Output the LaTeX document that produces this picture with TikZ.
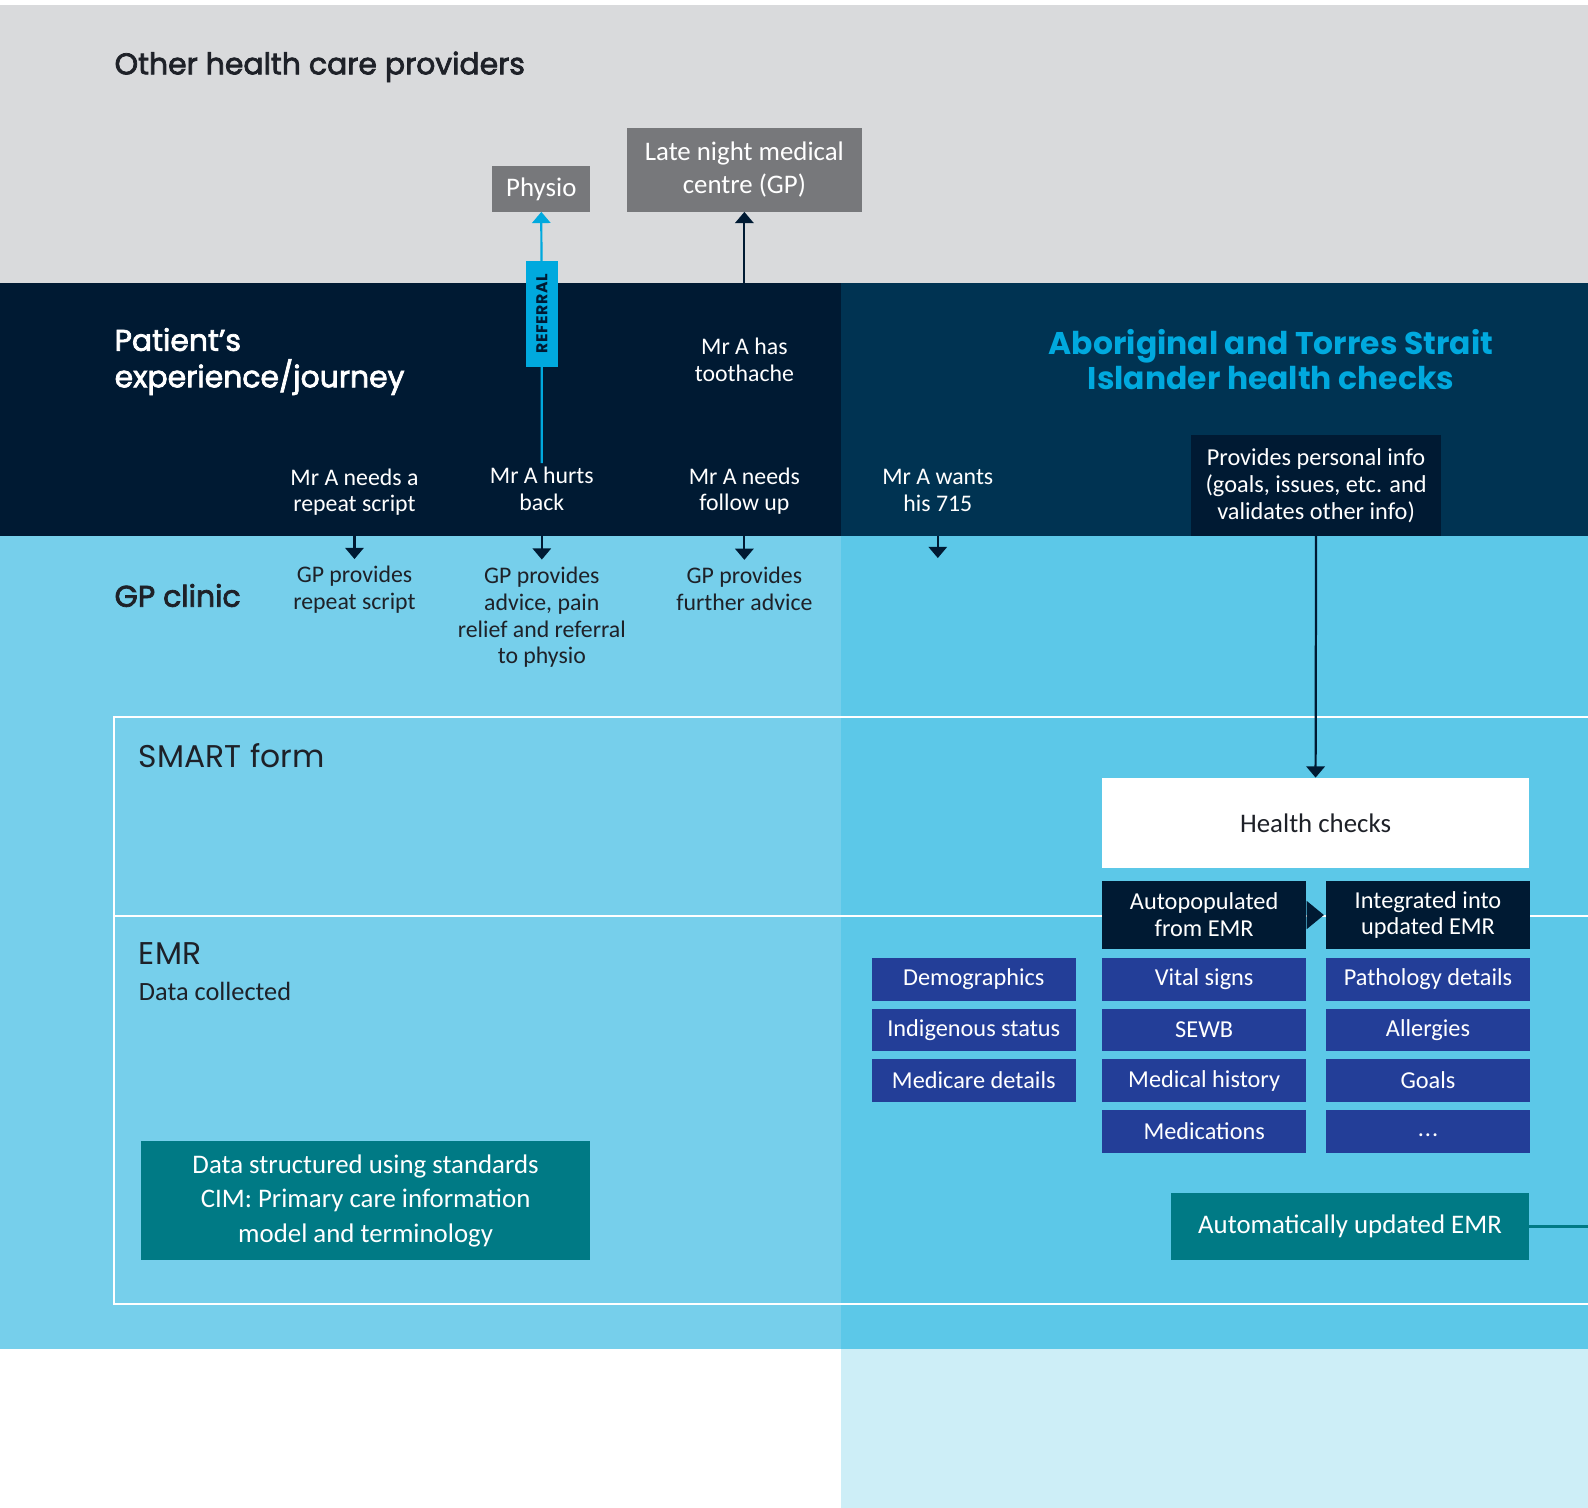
\documentclass[tikz,border=0pt]{standalone}
\usepackage{fontspec}
\usetikzlibrary{arrows.meta}
\newfontfamily\headfont{Poppins}
\newfontfamily\headmedium{Poppins}[FakeBold=2.5]
\newfontfamily\bodyfont{Carlito}
\newfontfamily\tagfont{Poppins}[LetterSpace=4]

\definecolor{bandgray}{HTML}{D9DADC}
\definecolor{navyL}{HTML}{001A33}
\definecolor{navyR}{HTML}{003352}
\definecolor{skyL}{HTML}{76CFEB}
\definecolor{skyR}{HTML}{5CC8E8}
\definecolor{paleR}{HTML}{CDEEF7}
\definecolor{boxgray}{HTML}{77787B}
\definecolor{cyanA}{HTML}{00A9DE}
\definecolor{royal}{HTML}{233E98}
\definecolor{tealbox}{HTML}{007A85}
\definecolor{ink}{HTML}{1E2128}

\tikzset{
  body/.style={font=\bodyfont\fontsize{23.5}{26.5}\selectfont, align=center, inner sep=0pt},
  bodywhite/.style={body, text=white},
  bodydark/.style={body, text=ink},
  heading/.style={font=\headmedium\fontsize{29.5}{36}\selectfont, inner sep=0pt, align=left},
  section/.style={font=\headfont\fontsize{31}{31}\selectfont, inner sep=0pt, text=ink, anchor=west},
  plainbox/.style={inner sep=0pt, align=center, font=\bodyfont\fontsize{24}{26.5}\selectfont},
  graybox/.style={plainbox, fill=boxgray, text=white, font=\bodyfont\fontsize{26.5}{33}\selectfont},
  darkbox/.style={plainbox, fill=navyL, text=white},
  bluebox/.style={plainbox, fill=royal, text=white, minimum height=42pt},
  tealnode/.style={plainbox, fill=tealbox, text=white, font=\bodyfont\fontsize{26.5}{34}\selectfont},
  arr/.style={draw=navyL, line width=2.2pt, -{Triangle[width=18pt,length=11pt]}},
  refarr/.style={draw=cyanA, line width=2.2pt, -{Triangle[width=18pt,length=11pt]}},
  frameline/.style={draw=white, line width=2pt}
}

\begin{document}
\begin{tikzpicture}[x=1pt,y=-1pt]
\useasboundingbox (0,0) rectangle (1568,1489);

% background bands
\fill[white] (0,0) rectangle (1568,1489);
\fill[bandgray] (0,5) rectangle (1568,279);
\fill[navyL] (0,279) rectangle (830,529);
\fill[navyR] (830,279) rectangle (1568,529);
\fill[skyL] (0,529) rectangle (830,1332);
\fill[skyR] (830,529) rectangle (1568,1332);
\fill[paleR] (830,1332) rectangle (1568,1489);

% SMART form / EMR frame
\draw[frameline] (1568,708) -- (113,708) -- (113,1288) -- (1568,1288);
\draw[frameline] (113,904) -- (1568,904);

% band headings
\node[heading, text=ink, anchor=west] (hOther) at (113,66) {Other health care providers};
\node[heading, text=white, anchor=west] (hPatient) at (113,357) {Patient’s\\experience/journey};
\node[heading, text=ink, anchor=west] (hGP) at (113,588) {GP clinic};
\node[heading, text=cyanA, align=center, font=\headfont\bfseries\fontsize{31}{34}\selectfont] (hAbor) at (1255,355) {Aboriginal and Torres Strait\\Islander health checks};
\node[section] (hSmart) at (137,746) {SMART form};
\node[section] (hEmr) at (137,942) {EMR};
\node[bodydark, anchor=west, font=\bodyfont\fontsize{26}{30}\selectfont] (hData) at (137,979) {Data collected};

% other providers
\node[graybox, minimum width=97pt, minimum height=45pt] (physio) at (534.5,186.5) {Physio};
\node[graybox, minimum width=232pt, minimum height=83pt] (late) at (735,167.5) {Late night medical\\centre (GP)};

% patient journey
\node[bodywhite] (tooth) at (735,355) {Mr A has\\toothache};
\node[bodywhite] (need) at (350,486) {Mr A needs a\\repeat script};
\node[bodywhite] (hurts) at (535,483) {Mr A hurts\\back};
\node[bodywhite] (follow) at (735,485) {Mr A needs\\follow up};
\node[bodywhite] (wants) at (926,484) {Mr A wants\\his 715};
\node[darkbox, minimum width=247pt, minimum height=99pt] (provides) at (1299.5,479.5) {Provides personal info\\(goals, issues, etc. and\\validates other info)};

% GP clinic responses
\node[bodydark] (gpA) at (350,582.5) {GP provides\\repeat script};
\node[bodydark] (gpB) at (535,609.5) {GP provides\\advice, pain\\relief and referral\\to physio};
\node[bodydark] (gpC) at (735,581.5) {GP provides\\further advice};

% band edge points where the short arrows start
\coordinate (eA) at (350,529);
\coordinate (eB) at (535,529);
\coordinate (eC) at (735,529);
\coordinate (eD) at (926,529);
\coordinate (tD) at (926,551);

% connectors
\coordinate (hurtsTop) at ([yshift=4pt]hurts.north);
\draw[refarr] (hurtsTop) -- (physio.south);
\node[fill=cyanA, rotate=90, minimum width=104pt, minimum height=31pt, inner sep=0pt, text=navyL, font=\tagfont\bfseries\fontsize{15.5}{16}\selectfont] (referral) at (535,310) {REFERRAL};
\draw[arr] (tooth.north) -- (late.south);
\draw[arr] (eA) -- ([yshift=7pt]gpA.north);
\draw[arr] (eB) -- ([yshift=7pt]gpB.north);
\draw[arr] (eC) -- ([yshift=7pt]gpC.north);
\draw[arr] (eD) -- (tD);

% health checks block
\node[plainbox, fill=white, text=ink, minimum width=422pt, minimum height=89pt, font=\bodyfont\fontsize{26.5}{30}\selectfont] (health) at (1299,812.5) {Health checks};
\draw[arr] (provides.south) -- (health.north);

\node[darkbox, minimum width=202pt, minimum height=67pt] (auto) at (1189,903.5) {Autopopulated\\from EMR};
\node[darkbox, minimum width=202pt, minimum height=67pt] (integ) at (1410,903.5) {Integrated into\\updated EMR};
\fill[navyL] ([yshift=-14pt]auto.east) -- ([xshift=17pt]auto.east) -- ([yshift=14pt]auto.east) -- cycle;

\node[bluebox, minimum width=201pt] (demo) at (961.5,967) {Demographics};
\node[bluebox, minimum width=201pt] (indig) at (961.5,1017) {Indigenous status};
\node[bluebox, minimum width=201pt] (medicare) at (961.5,1067) {Medicare details};
\node[bluebox, minimum width=202pt] (vital) at (1189,967) {Vital signs};
\node[bluebox, minimum width=202pt] (sewb) at (1189,1017) {SEWB};
\node[bluebox, minimum width=202pt] (medhist) at (1189,1067) {Medical history};
\node[bluebox, minimum width=202pt] (meds) at (1189,1117) {Medications};
\node[bluebox, minimum width=202pt] (path) at (1410,967) {Pathology details};
\node[bluebox, minimum width=202pt] (allerg) at (1410,1017) {Allergies};
\node[bluebox, minimum width=202pt] (goals) at (1410,1067) {Goals};
\node[bluebox, minimum width=202pt] (more) at (1410,1117) {\vphantom{Ag}.\kern1pt.\kern1pt.};

% EMR standards and automatic update
\node[tealnode, minimum width=444pt, minimum height=117pt] (std) at (361,1185.5) {Data structured using standards\\CIM: Primary care information\\model and terminology};
\node[tealnode, minimum width=354pt, minimum height=66pt] (autoemr) at (1333,1211) {Automatically updated EMR};
\coordinate (rightEdge) at (1568,1211);
\draw[draw=tealbox, line width=2.5pt] (autoemr.east) -- (rightEdge);
\end{tikzpicture}
\end{document}
